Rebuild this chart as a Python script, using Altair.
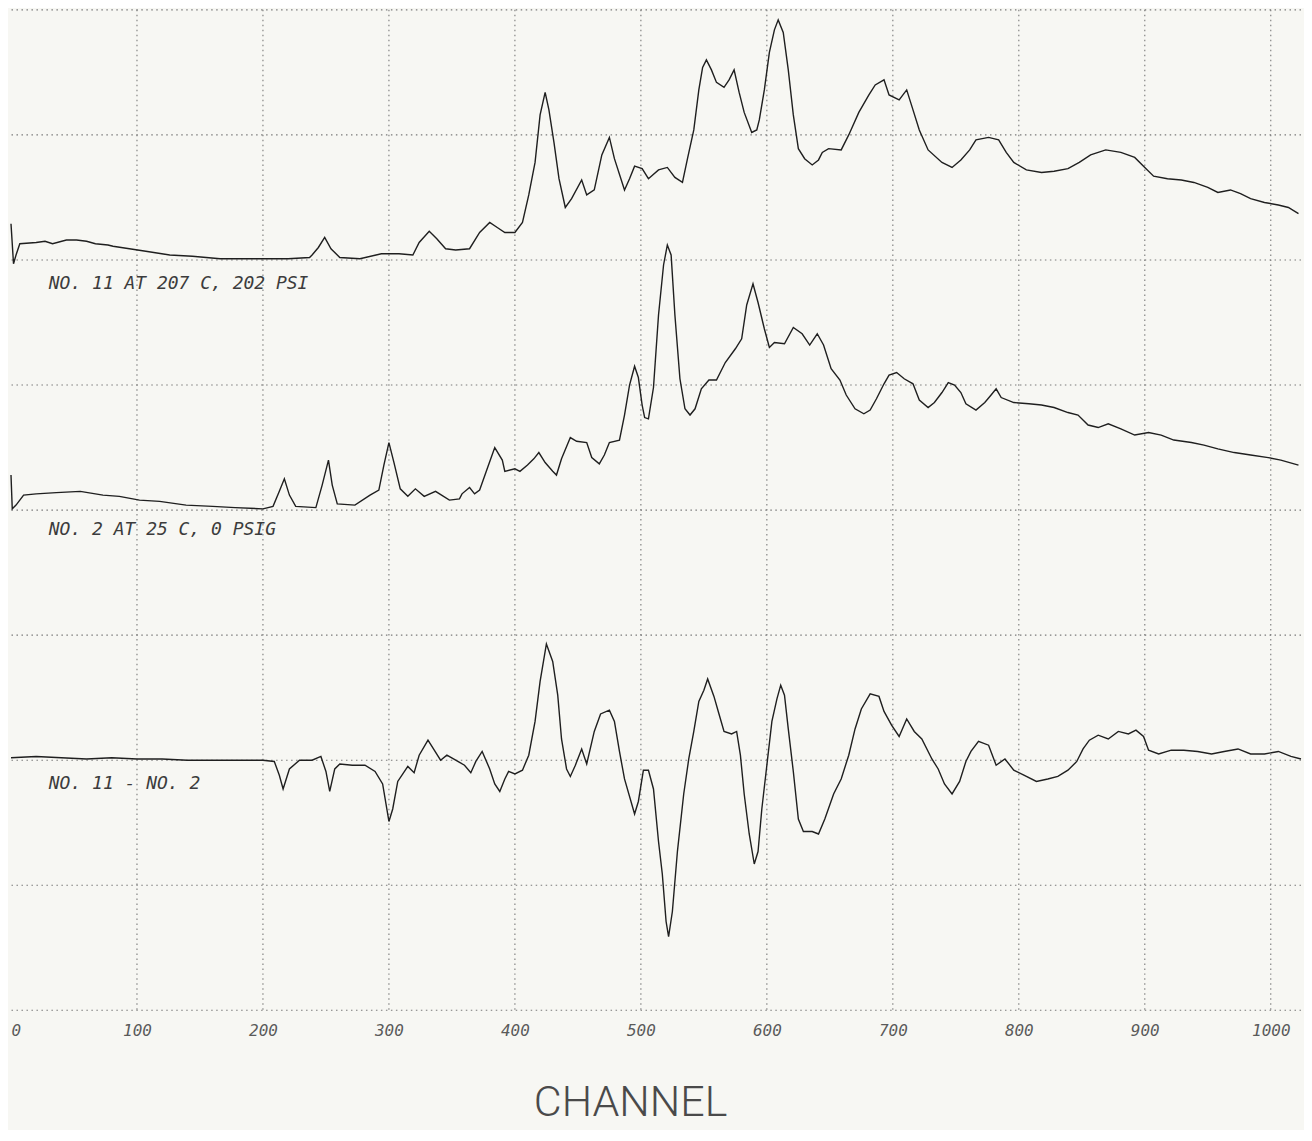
import altair as alt
import pandas as pd

# ---- x-axis tick values (channel) ----
X_TICKS = [0, 100, 200, 300, 400, 500, 600, 700, 800, 900, 1000]
V_GRID = [100, 200, 300, 400, 500, 600, 700, 800, 900, 1000]
H_GRID = [0, 1, 2, 3, 4, 5, 6, 7, 8]

# ---- trace 1: NO. 11 AT 207 C, 202 PSI ----
T1_CH = [0, 2, 4, 7, 20, 27, 33, 44, 52, 60, 67, 77, 81, 94, 107, 126, 144, 166, 184, 200,
         220, 237, 239, 244, 249, 254, 261, 277, 294, 308, 319, 324, 332, 338, 345, 353, 364,
         372, 380, 386, 392, 400, 406, 411, 416, 420, 424, 427, 431, 435, 440, 445, 453, 457,
         463, 469, 475, 479, 487, 491, 495, 501, 506, 514, 521, 527, 533, 537, 542, 546, 549,
         552, 556, 560, 566, 570, 574, 578, 582, 588, 592, 594, 598, 602, 606, 609, 613, 617,
         621, 625, 630, 636, 641, 644, 649, 659, 665, 673, 681, 686, 693, 697, 705, 711, 716,
         721, 728, 739, 747, 754, 761, 766, 776, 784, 790, 796, 806, 818, 828, 839, 848, 857,
         869, 881, 892, 900, 907, 918, 929, 939, 950, 958, 968, 976, 984, 995, 1006, 1014, 1022]
T1_VAL = [6.29, 5.97, 6.04, 6.13, 6.14, 6.15, 6.13, 6.16, 6.16, 6.15, 6.13, 6.12, 6.11, 6.09,
          6.07, 6.04, 6.03, 6.01, 6.01, 6.01, 6.01, 6.02, 6.04, 6.10, 6.18, 6.09, 6.02, 6.01,
          6.05, 6.05, 6.04, 6.14, 6.23, 6.17, 6.09, 6.08, 6.09, 6.22, 6.30, 6.26, 6.22, 6.22,
          6.30, 6.52, 6.78, 7.16, 7.34, 7.20, 6.94, 6.65, 6.42, 6.49, 6.64, 6.52, 6.56, 6.84,
          6.98, 6.81, 6.56, 6.65, 6.75, 6.73, 6.65, 6.72, 6.74, 6.66, 6.62, 6.81, 7.04, 7.36,
          7.54, 7.60, 7.52, 7.42, 7.38, 7.44, 7.52, 7.34, 7.18, 7.02, 7.04, 7.12, 7.36, 7.66,
          7.84, 7.92, 7.82, 7.52, 7.16, 6.89, 6.81, 6.76, 6.80, 6.86, 6.89, 6.88, 7.00, 7.18,
          7.32, 7.40, 7.44, 7.32, 7.28, 7.36, 7.20, 7.04, 6.88, 6.78, 6.74, 6.80, 6.88, 6.96,
          6.98, 6.96, 6.86, 6.78, 6.72, 6.70, 6.71, 6.73, 6.78, 6.84, 6.88, 6.86, 6.82, 6.74,
          6.67, 6.65, 6.64, 6.62, 6.58, 6.54, 6.56, 6.53, 6.49, 6.46, 6.44, 6.42, 6.37]

# ---- trace 2: NO. 2 AT 25 C, 0 PSIG ----
T2_CH = [0, 1, 4, 10, 20, 36, 55, 73, 86, 102, 118, 139, 160, 178, 200, 208, 213, 217, 221,
         226, 242, 247, 252, 255, 259, 273, 285, 292, 296, 300, 304, 309, 315, 321, 328, 337,
         348, 356, 358, 364, 368, 372, 378, 384, 390, 392, 400, 404, 410, 415, 419, 424, 430,
         433, 437, 444, 449, 457, 461, 467, 471, 475, 483, 487, 491, 495, 498, 501, 503, 506,
         510, 514, 518, 521, 524, 527, 531, 535, 539, 543, 548, 554, 560, 567, 575, 580, 584,
         589, 593, 598, 602, 606, 614, 621, 628, 634, 640, 645, 651, 658, 663, 670, 677, 682,
         687, 693, 697, 703, 709, 716, 721, 728, 733, 739, 744, 749, 754, 758, 766, 773, 778,
         782, 786, 796, 808, 818, 828, 839, 847, 855, 863, 871, 881, 892, 903, 913, 923, 937,
         947, 958, 971, 984, 998, 1008, 1022]
T2_VAL = [4.28, 4.01, 4.04, 4.12, 4.13, 4.14, 4.15, 4.12, 4.11, 4.08, 4.07, 4.04, 4.03, 4.02,
          4.01, 4.03, 4.15, 4.25, 4.12, 4.03, 4.02, 4.20, 4.40, 4.20, 4.05, 4.04, 4.12, 4.16,
          4.36, 4.54, 4.38, 4.17, 4.11, 4.17, 4.11, 4.15, 4.08, 4.09, 4.13, 4.18, 4.13, 4.16,
          4.33, 4.50, 4.40, 4.31, 4.33, 4.31, 4.36, 4.41, 4.46, 4.38, 4.31, 4.28, 4.41, 4.58,
          4.55, 4.54, 4.42, 4.37, 4.44, 4.54, 4.56, 4.76, 5.00, 5.15, 5.06, 4.84, 4.74, 4.73,
          4.98, 5.56, 5.96, 6.12, 6.04, 5.56, 5.05, 4.81, 4.76, 4.81, 4.97, 5.04, 5.04, 5.18,
          5.29, 5.37, 5.64, 5.81, 5.66, 5.45, 5.30, 5.34, 5.33, 5.46, 5.41, 5.32, 5.41, 5.32,
          5.13, 5.04, 4.92, 4.81, 4.77, 4.80, 4.89, 5.01, 5.08, 5.10, 5.05, 5.01, 4.88, 4.82,
          4.86, 4.94, 5.02, 5.00, 4.94, 4.85, 4.80, 4.86, 4.92, 4.97, 4.90, 4.86, 4.85, 4.84,
          4.82, 4.78, 4.76, 4.68, 4.66, 4.69, 4.65, 4.60, 4.62, 4.60, 4.56, 4.54, 4.52, 4.49,
          4.46, 4.44, 4.42, 4.40, 4.36]

# ---- trace 3: NO. 11 - NO. 2 ----
T3_CH = [0, 20, 40, 60, 80, 100, 120, 140, 160, 184, 200, 209, 213, 216, 221, 229, 239, 246,
         250, 253, 257, 261, 271, 281, 289, 295, 300, 303, 307, 315, 320, 324, 331, 336, 341,
         346, 353, 360, 365, 369, 374, 380, 384, 388, 392, 395, 400, 406, 411, 416, 420, 425,
         430, 434, 437, 441, 444, 448, 453, 457, 463, 468, 475, 479, 483, 487, 495, 498, 502,
         506, 510, 514, 517, 520, 522, 525, 529, 534, 538, 542, 546, 550, 553, 558, 562, 566,
         572, 576, 579, 582, 586, 590, 593, 596, 600, 604, 608, 611, 614, 617, 621, 625, 629,
         636, 641, 646, 653, 659, 665, 670, 675, 682, 689, 693, 699, 705, 711, 717, 723, 731,
         736, 741, 747, 753, 758, 762, 768, 776, 782, 789, 796, 804, 814, 823, 831, 839, 846,
         851, 856, 863, 871, 879, 887, 893, 899, 903, 911, 921, 931, 942, 953, 963, 974, 984,
         995, 1006, 1016, 1024]
T3_VAL = [2.02, 2.03, 2.02, 2.01, 2.02, 2.01, 2.01, 2.00, 2.00, 2.00, 2.00, 1.99, 1.88, 1.77,
          1.93, 2.00, 2.00, 2.03, 1.91, 1.75, 1.93, 1.97, 1.96, 1.96, 1.91, 1.81, 1.51, 1.61,
          1.83, 1.95, 1.90, 2.04, 2.16, 2.08, 2.00, 2.04, 2.00, 1.96, 1.90, 1.99, 2.07, 1.93,
          1.81, 1.75, 1.85, 1.91, 1.89, 1.92, 2.04, 2.31, 2.63, 2.93, 2.79, 2.52, 2.17, 1.93,
          1.87, 1.96, 2.09, 1.97, 2.23, 2.37, 2.40, 2.31, 2.07, 1.85, 1.57, 1.67, 1.92, 1.92,
          1.77, 1.35, 1.09, 0.71, 0.59, 0.79, 1.27, 1.73, 2.01, 2.23, 2.47, 2.56, 2.65, 2.51,
          2.37, 2.23, 2.21, 2.23, 2.04, 1.73, 1.41, 1.17, 1.27, 1.61, 1.96, 2.31, 2.49, 2.60,
          2.52, 2.25, 1.91, 1.53, 1.43, 1.43, 1.41, 1.53, 1.73, 1.85, 2.04, 2.25, 2.41, 2.53,
          2.51, 2.39, 2.28, 2.19, 2.33, 2.23, 2.17, 2.01, 1.93, 1.81, 1.73, 1.83, 1.99, 2.07,
          2.15, 2.12, 1.96, 2.01, 1.92, 1.88, 1.83, 1.85, 1.87, 1.92, 1.99, 2.09, 2.16, 2.20,
          2.17, 2.23, 2.21, 2.24, 2.19, 2.08, 2.05, 2.08, 2.08, 2.07, 2.05, 2.07, 2.09, 2.05,
          2.05, 2.07, 2.03, 2.01]

# ---- trace labels ----
LABEL_TEXT = ["NO. 11 AT 207 C, 202 PSI", "NO. 2 AT 25 C, 0 PSIG", "NO. 11 - NO. 2"]
LABEL_CH = [30, 30, 30]
LABEL_VAL = [5.81, 3.84, 1.81]

rows = []
for name, chs, vals in [("t1", T1_CH, T1_VAL), ("t2", T2_CH, T2_VAL), ("t3", T3_CH, T3_VAL)]:
    for c, v in zip(chs, vals):
        rows.append({"series": name, "channel": c, "value": v})
traces = pd.DataFrame(rows)
labels = pd.DataFrame({"channel": LABEL_CH, "value": LABEL_VAL, "text": LABEL_TEXT})
vgrid = pd.DataFrame({"channel": V_GRID})
hgrid = pd.DataFrame({"value": H_GRID})

X = alt.X(
    "channel:Q",
    scale=alt.Scale(domain=[0, 1024], nice=False, zero=False),
    axis=alt.Axis(
        values=X_TICKS, format="d", title="CHANNEL", grid=False, ticks=False, domain=False,
        labelFlush=True, labelFont="DejaVu Sans Mono", labelFontStyle="italic",
        labelFontSize=16, labelColor="#5a5a5a", labelPadding=12,
        titleFont="Roboto", titleFontWeight=300, titleFontSize=43, titleColor="#4a4a4a",
        titleX=620, titleY=105, titleBaseline="alphabetic", titleAlign="center",
    ),
)
Y = alt.Y("value:Q", scale=alt.Scale(domain=[0, 8], nice=False, zero=False), axis=None)

vrules = alt.Chart(vgrid).mark_rule(
    color="#7a7a7a", strokeWidth=1.1, strokeDash=[1.5, 3.5]
).encode(x=X)
hrules = alt.Chart(hgrid).mark_rule(
    color="#7a7a7a", strokeWidth=1.1, strokeDash=[1.5, 3.5]
).encode(y=Y)

lines = alt.Chart(traces).mark_line(
    color="#1f1f1f", strokeWidth=1.4, interpolate="linear"
).encode(x=X, y=Y, detail="series:N", order="channel:Q")

text = alt.Chart(labels).mark_text(
    align="left", baseline="middle", font="DejaVu Sans Mono", fontStyle="italic",
    fontSize=18, color="#3c3c3c"
).encode(x=X, y=Y, text="text:N")

chart = (
    alt.layer(vrules, hrules, lines, text)
    .properties(width=1292, height=1002,
                padding={"left": 0, "top": 0, "right": 0, "bottom": 5})
    .configure(background="#f7f7f3")
    .configure_view(strokeWidth=0)
)

chart.save("out.html", embed_options={"renderer": "svg", "actions": False})
